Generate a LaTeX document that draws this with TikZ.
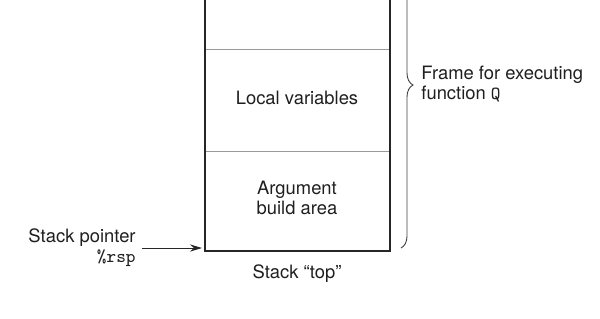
\documentclass[tikz,border=0pt]{standalone}
\usepackage{fontspec}
\setmainfont{TeX Gyre Heros}
\usetikzlibrary{arrows.meta,decorations.pathreplacing}
\tikzset{
  lbl/.style={inner sep=0pt, font=\fontsize{9.2}{10}\selectfont, text=black!88},
  frameline/.style={line width=1pt, draw=black!85},
  divider/.style={line width=0.5pt, draw=black!40},
  ptr/.style={line width=0.5pt, draw=black!85, -{Stealth[length=6pt,width=3.6pt]}},
  bracestyle/.style={line width=0.45pt, draw=black!75, decorate, decoration={brace, amplitude=6pt}}
}
\begin{document}
\begin{tikzpicture}[x=0.5pt,y=-0.5pt]
  \useasboundingbox (0,0) rectangle (600,318);
  \clip (0,0) rectangle (600,318);
  % stack frame box
  \coordinate (tl) at (204.5,-10);
  \coordinate (bl) at (204.5,250.5);
  \coordinate (br) at (389.5,250.5);
  \coordinate (tr) at (389.5,-10);
  \draw[divider] (204.5,49) -- (389.5,49);
  \draw[divider] (204.5,151.3) -- (389.5,151.3);
  \draw[frameline] (tl) -- (bl) -- (br) -- (tr);
  % texts
  \node[lbl] (local) at (297,98) {Local variables};
  \node[lbl, align=center] (arg) at (297,198) {Argument\\build area};
  \node[lbl] (top) at (297,273.5) {Stack “top”};
  \node[lbl, align=right, anchor=east] (sp) at (136,248) {Stack pointer\\\texttt{\%rsp}};
  \coordinate (sptip) at (202,248);
  \draw[ptr] ([xshift=3pt]sp.east) -- (sptip);
  % brace
  \coordinate (btop) at (401,-78);
  \coordinate (bbot) at (401,248);
  \draw[bracestyle] (btop) -- (bbot);
  \node[lbl, align=left, anchor=west] (frame) at (421,84) {Frame for executing\\function \texttt{Q}};
\end{tikzpicture}
\end{document}
